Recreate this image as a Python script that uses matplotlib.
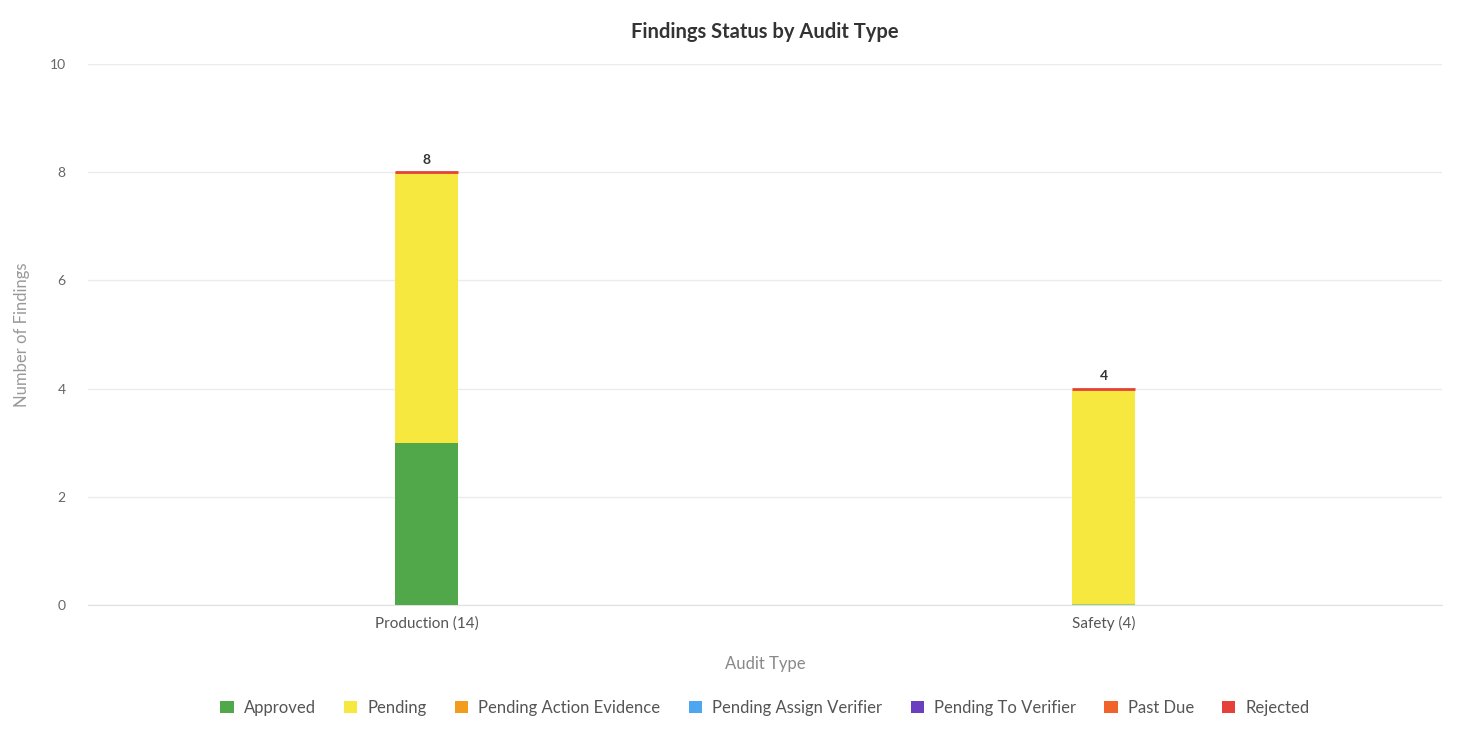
""" Findings status by audit type, stacked column chart """

import matplotlib.pyplot as plt
import numpy as np

plt.rcParams['font.family'] = ['Lato', 'DejaVu Sans']

# Data
audit_types = ["Production (14)", "Safety (4)"]
statuses = ["Approved", "Pending", "Pending Action Evidence", "Pending Assign Verifier",
            "Pending To Verifier", "Past Due", "Rejected"]
approved = [3, 0]
pending = [5, 4]
pending_action_evidence = [0, 0]
pending_assign_verifier = [0, 0]
pending_to_verifier = [0, 0]
past_due = [0, 0]
rejected = [0, 0]
totals = [8, 4]

colors = ["#50a84a", "#f7e83f", "#f29b1d", "#4da6f0", "#6a3fc0", "#f0632a", "#e5413a"]
series = [approved, pending, pending_action_evidence, pending_assign_verifier,
          pending_to_verifier, past_due, rejected]

fig = plt.figure(figsize=(14.6, 7.36), dpi=100)
ax = fig.add_axes([0.0603, 0.178, 0.9274, 0.735])

x = np.arange(len(audit_types))
width = 0.092
bottom = np.zeros(len(audit_types))
for name, vals, col in zip(statuses, series, colors):
    vals = np.array(vals, dtype=float)
    ax.bar(x, vals, width, bottom=bottom, color=col, label=name, zorder=3)
    bottom += vals

# thin markers for the empty stacks, as drawn by the original chart
ax.bar(x[1:], [0], width, bottom=0, color="none", edgecolor="#9ccf7a", linewidth=1.5, zorder=4)
ax.bar(x, rejected, width, bottom=bottom, color="none", edgecolor=colors[6], linewidth=2, zorder=4)

# totals above the stacks
for xi, t in zip(x, totals):
    ax.text(xi, t + 0.12, str(t), ha="center", va="bottom", fontsize=10,
            fontweight="bold", color="#333333")

ax.set_xlim(-0.5, 1.5)
ax.set_ylim(0, 10)
ax.set_yticks([0, 2, 4, 6, 8, 10])
ax.set_xticks(x)
ax.set_xticklabels(audit_types)
ax.tick_params(axis="y", length=0, pad=16, labelsize=10, labelcolor="#666666")
ax.tick_params(axis="x", length=0, pad=8, labelsize=11, labelcolor="#555555")
ax.grid(axis="y", color="#ebebeb", linewidth=1, zorder=0)
for side in ["top", "right", "left"]:
    ax.spines[side].set_visible(False)
ax.spines["bottom"].set_color("#e0e0e0")

ax.set_xlabel("Audit Type", fontsize=12, color="#888888", labelpad=18)
ax.set_ylabel("Number of Findings", fontsize=12, color="#999999", labelpad=14)
fig.text(0.524, 0.956, "Findings Status by Audit Type", ha="center", va="center",
         fontsize=14.5, fontweight="bold", color="#333333")

ax.legend(loc="center", bbox_to_anchor=(0.5, -0.19), ncol=7, frameon=False,
          fontsize=12, labelcolor="#555555", handlelength=0.8, handleheight=0.8,
          columnspacing=1.7, handletextpad=0.6)

plt.savefig("out.png")
